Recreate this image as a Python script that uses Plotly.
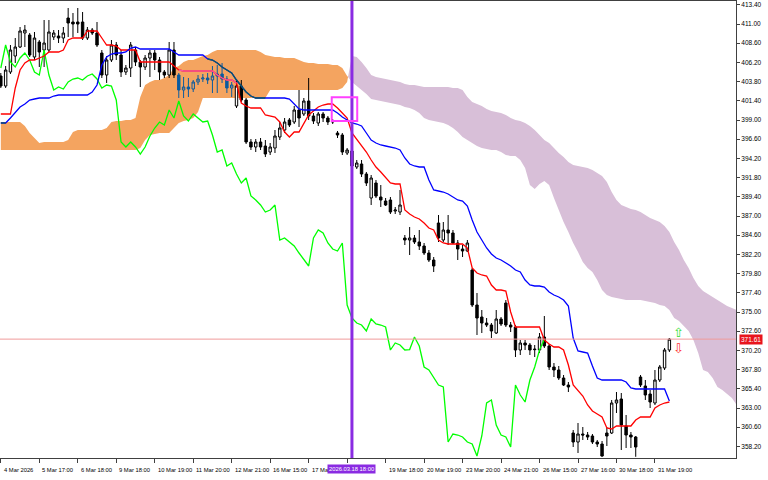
import plotly.graph_objects as go

# ---------------- data ----------------
idx = list(range(140))

open_ = [
404.5, 403.25, 405.0, 407.0, 408.125, 409.875, 409.625, 406.875, 408.75, 407.75,
407.75, 409.375, 409.5, 409.25, 411.75, 411.25, 411.25, 411.25, 409.25, 410.25,
409.875, 407.375, 404.625, 406.5, 408.375, 407.125, 405.0, 405.5, 407.75, 406.25,
405.625, 406.75, 407.375, 406.5, 405.0, 404.625, 407.75, 404.625, 402.75, 403.125,
402.875, 403.75, 404.125, 404.25, 404.0, 404.5, 404.75, 404.125, 403.0, 400.75,
403.25, 401.5, 396.25, 395.625, 396.25, 395.75, 395.0, 395.5, 396.875, 397.75,
399.0, 398.75, 400.25, 399.75, 401.375, 399.5, 398.625, 399.75, 399.25, 398.75,
397.375, 397.125, 394.875, 395.125, 393.125, 393.5, 392.25, 389.25, 391.125, 389.375,
388.875, 389.0, 387.625, 387.5, 384.25, 384.0, 384.25, 383.75, 383.25, 382.375,
381.5, 386.125, 384.0, 385.25, 384.875, 383.625, 382.875, 382.625, 380.25, 375.875,
374.375, 373.625, 373.375, 372.375, 374.125, 376.125, 373.375, 373.125, 370.25, 371.125,
370.875, 370.375, 370.25, 371.875, 370.75, 368.125, 367.75, 366.75, 365.875, 359.875,
358.75, 359.75, 359.625, 359.5, 358.75, 358.5, 359.875, 359.875, 363.625, 364.125,
360.75, 359.625, 359.375, 366.875, 365.75, 364.75, 363.625, 366.5, 368.0, 370.25]

high = [
404.875, 405.75, 408.375, 409.25, 410.625, 410.875, 409.875, 410.0, 409.0, 411.5,
411.5, 410.25, 410.25, 410.625, 413.0, 412.375, 413.0, 412.5, 410.625, 410.5,
411.25, 407.75, 407.0, 409.0, 408.75, 407.75, 405.875, 408.75, 408.125, 406.5,
407.125, 407.75, 407.75, 406.875, 405.25, 408.75, 408.75, 404.875, 404.375, 404.25,
404.0, 404.625, 404.75, 404.875, 405.75, 405.875, 406.125, 404.5, 403.75, 404.0,
404.0, 401.75, 396.625, 396.625, 396.75, 396.5, 396.125, 397.75, 398.75, 399.25,
399.25, 400.75, 402.75, 401.75, 404.25, 399.875, 400.0, 400.0, 399.5, 399.125,
397.625, 397.375, 395.5, 395.375, 394.0, 394.0, 392.5, 392.125, 391.5, 390.875,
389.25, 389.375, 388.125, 390.25, 384.625, 385.625, 384.625, 385.25, 383.625, 382.75,
381.875, 387.125, 386.25, 387.125, 385.25, 384.0, 383.375, 384.0, 380.5, 377.375,
375.25, 374.25, 373.625, 375.25, 374.375, 376.5, 373.75, 373.375, 371.5, 371.5,
371.125, 370.875, 372.375, 374.5, 371.0, 368.625, 368.25, 367.125, 366.25, 360.25,
361.125, 360.625, 360.0, 359.75, 359.0, 358.875, 360.625, 364.0, 365.0, 364.875,
362.125, 360.0, 359.5, 367.125, 366.5, 365.25, 367.75, 368.375, 370.5, 371.75]

low = [
403.0, 403.0, 404.75, 406.125, 408.0, 408.125, 406.875, 406.5, 405.625, 405.625,
407.5, 409.0, 408.625, 408.625, 409.375, 409.375, 409.875, 409.0, 409.0, 409.625,
408.125, 404.25, 403.625, 406.25, 406.5, 404.375, 404.625, 404.375, 405.75, 403.125,
405.25, 404.375, 405.25, 404.0, 404.25, 404.25, 404.25, 401.75, 401.75, 401.875,
402.5, 403.375, 403.75, 403.5, 402.375, 402.375, 403.625, 402.375, 401.875, 400.5,
401.25, 396.0, 395.25, 395.0, 395.25, 394.375, 394.625, 394.875, 396.5, 397.375,
398.125, 398.5, 398.125, 399.5, 399.0, 398.5, 398.25, 398.75, 398.375, 398.5,
396.75, 394.625, 394.625, 392.875, 392.875, 391.875, 390.75, 388.375, 389.25, 388.125,
388.25, 387.25, 387.25, 387.125, 383.375, 382.125, 383.5, 382.75, 382.125, 381.25,
380.0, 383.75, 383.75, 383.375, 383.5, 381.5, 381.875, 382.5, 375.625, 372.125,
372.375, 373.125, 371.75, 372.25, 373.25, 373.125, 372.5, 369.375, 369.625, 370.25,
369.625, 369.375, 369.875, 370.5, 367.75, 366.875, 366.5, 365.75, 365.0, 358.125,
357.375, 359.0, 359.0, 358.5, 358.125, 356.9, 358.25, 359.75, 362.375, 357.75,
358.0, 358.0, 356.9, 365.625, 364.0, 363.0, 363.375, 366.25, 367.75, 370.0]

close = [
403.25, 405.25, 407.75, 408.125, 410.125, 410.25, 407.125, 409.25, 407.5, 408.625,
410.0, 409.875, 409.25, 409.875, 411.125, 411.0, 411.0, 409.25, 410.25, 409.875,
408.375, 404.625, 406.5, 408.375, 407.125, 405.0, 405.5, 408.375, 406.25, 405.625,
406.75, 407.375, 406.5, 405.0, 404.625, 407.75, 404.625, 402.75, 403.125, 402.875,
403.75, 404.125, 404.25, 404.0, 404.5, 404.75, 404.125, 403.0, 403.375, 403.25,
401.5, 396.25, 395.625, 396.25, 395.625, 394.75, 395.625, 397.0, 398.0, 398.75,
398.375, 400.25, 399.25, 401.375, 399.5, 398.875, 399.75, 399.25, 398.75, 398.875,
397.125, 395.0, 395.25, 393.25, 393.625, 392.25, 391.125, 391.75, 389.5, 389.0,
388.375, 387.5, 387.75, 388.375, 384.0, 384.25, 383.75, 383.25, 382.375, 381.5,
380.75, 384.25, 385.25, 384.875, 383.625, 382.875, 382.625, 383.625, 375.875, 374.25,
373.625, 373.375, 372.625, 374.125, 373.5, 373.375, 373.125, 370.25, 371.125, 370.875,
370.25, 370.3, 371.875, 370.75, 368.125, 367.75, 366.75, 365.875, 365.625, 358.75,
359.75, 359.625, 359.375, 358.75, 358.5, 357.0, 359.5, 363.625, 364.0, 360.875,
359.625, 359.375, 358.125, 365.875, 364.625, 363.75, 366.5, 368.125, 370.25, 371.6]

tenkan = [
399.75, 399.75, 399.75, 403.0, 405.25, 406.125, 406.5, 406.5, 406.75, 407.0,
407.5, 407.5, 407.5, 407.75, 409.0, 409.25, 409.25, 409.25, 410.125, 410.125,
410.125, 409.25, 408.375, 408.375, 408.25, 407.75, 407.75, 407.75, 407.75, 406.25,
406.25, 406.25, 406.25, 406.25, 406.25, 406.25, 405.75, 405.25, 405.125, 405.125,
405.125, 405.125, 405.125, 405.125, 405.125, 404.625, 404.25, 404.0, 404.0, 403.625,
401.125, 400.75, 400.5, 400.5, 400.5, 399.625, 399.5, 399.375, 398.75, 397.5,
396.875, 397.5, 397.5, 398.625, 399.625, 400.125, 400.625, 400.875, 401.0, 401.0,
400.5, 399.875, 399.25, 397.375, 396.625, 395.875, 395.0, 394.0, 393.125, 392.5,
391.75, 391.125, 391.0, 391.0, 387.75, 387.25, 386.875, 386.625, 386.125, 385.5,
385.25, 384.0, 383.625, 383.5, 383.5, 383.5, 383.5, 383.0, 380.5, 379.875,
379.625, 379.5, 378.375, 377.75, 377.75, 377.625, 375.0, 373.125, 373.125, 373.125,
373.125, 373.125, 373.125, 371.5, 371.0, 370.625, 370.625, 370.25, 368.375, 365.875,
365.25, 364.5, 363.375, 362.625, 362.25, 361.875, 360.5, 360.375, 360.75, 360.75,
360.75, 360.75, 361.5, 361.875, 361.875, 361.875, 363.0, 363.375, 363.625, 363.75]

kijun = [
398.625, 398.625, 399.25, 400.0, 400.625, 401.0, 401.5, 401.625, 401.75, 401.75,
401.75, 402.0, 402.125, 402.125, 402.125, 402.125, 402.125, 402.125, 402.125, 402.5,
403.375, 405.875, 406.875, 407.25, 407.375, 407.375, 407.5, 408.0, 408.125, 407.875,
407.875, 407.875, 407.875, 407.875, 407.875, 407.875, 407.5, 407.125, 407.125, 407.125,
407.125, 407.125, 407.125, 406.625, 406.5, 406.125, 405.625, 405.25, 404.875, 404.0,
403.25, 402.5, 402.0, 401.75, 401.75, 401.75, 401.75, 401.75, 401.75, 401.75,
401.625, 401.0, 400.375, 400.25, 400.25, 400.25, 400.25, 400.25, 400.25, 400.25,
399.875, 399.375, 399.0, 398.625, 398.5, 398.25, 397.375, 396.5, 396.125, 395.875,
395.75, 395.625, 395.5, 395.25, 394.25, 393.5, 393.25, 393.125, 393.125, 391.5,
390.25, 390.125, 390.0, 389.75, 389.375, 389.0, 388.875, 388.25, 386.5, 385.0,
384.0, 383.0, 382.25, 381.75, 381.5, 381.125, 380.75, 380.25, 380.0, 379.0,
378.375, 378.25, 378.25, 378.125, 377.5, 377.125, 376.875, 376.5, 375.75, 371.75,
370.125, 370.0, 369.875, 368.25, 366.75, 366.5, 366.5, 366.5, 366.5, 366.5,
366.25, 365.5, 365.375, 365.375, 365.375, 365.375, 365.375, 365.375, 365.375, 363.875]

# Senkou spans, already displaced 26 bars forward (index 0..153)
span_a = [
398.75, 398.75, 398.75, 398.75, 398.75, 398.25, 397.375, 396.75, 396.125, 396.25,
396.25, 396.25, 396.25, 396.25, 396.5, 397.5, 397.75, 397.75, 397.75, 397.75,
397.75, 397.75, 398.0, 398.75, 398.875, 398.875, 399.0, 399.0, 399.25, 401.875,
403.375, 403.75, 404.0, 404.0, 404.25, 404.625, 405.5, 405.75, 406.25, 406.5,
406.5, 406.75, 407.0, 407.125, 407.5, 407.75, 407.75, 407.75, 407.75, 407.75,
407.75, 407.75, 407.75, 407.75, 407.5, 407.125, 407.0, 406.875, 406.875, 406.75,
406.75, 406.75, 406.5, 406.25, 406.125, 406.125, 406.0, 406.0, 406.0, 405.875,
405.875, 405.5, 404.5, 403.75, 403.25, 402.75, 402.25, 401.625, 401.5, 401.375,
401.25, 401.125, 401.0, 400.875, 400.625, 400.5, 400.25, 399.875, 399.25, 399.0,
398.875, 398.75, 398.625, 398.375, 398.0, 397.5, 396.875, 396.5, 396.125, 395.75,
395.5, 395.375, 395.25, 395.25, 395.0, 394.625, 394.5, 394.5, 394.0, 393.0,
390.875, 390.375, 391.0, 391.375, 390.875, 389.25, 387.75, 386.25, 385.0, 383.625,
382.5, 381.25, 380.5, 380.0, 379.0, 377.75, 377.125, 376.875, 376.75, 376.625,
376.5, 376.5, 376.5, 376.5, 376.375, 376.25, 376.125, 375.875, 375.75, 375.25,
374.25, 373.875, 373.25, 372.625, 371.5, 369.875, 367.75, 367.5, 366.75, 365.625,
365.25, 364.75, 364.25, 363.375]

span_b = [
395.25, 395.25, 395.25, 395.25, 395.25, 395.25, 395.25, 395.25, 395.25, 395.25,
395.25, 395.25, 395.25, 395.25, 395.25, 395.25, 395.25, 395.25, 395.25, 395.25,
395.25, 395.25, 395.25, 395.25, 395.25, 395.25, 395.25, 395.25, 395.25, 395.5,
396.5, 397.125, 397.25, 397.375, 397.375, 397.375, 398.0, 398.625, 398.875, 399.0,
399.25, 400.0, 401.75, 401.75, 401.75, 401.75, 401.75, 401.75, 401.75, 401.75,
401.75, 401.75, 401.75, 401.75, 401.75, 401.75, 402.75, 402.75, 402.75, 402.75,
402.75, 402.75, 402.75, 402.75, 402.75, 402.75, 402.75, 402.75, 402.75, 402.75,
402.75, 403.0, 403.75, 407.0, 406.875, 406.25, 405.5, 404.625, 404.375, 404.25,
404.125, 404.0, 403.875, 403.75, 403.5, 403.375, 403.375, 403.25, 403.125, 403.125,
403.125, 403.125, 403.125, 403.125, 403.0, 403.0, 402.75, 401.875, 401.25, 401.0,
400.75, 400.375, 400.125, 400.0, 399.875, 399.625, 399.25, 399.0, 398.875, 398.625,
398.25, 397.75, 397.125, 396.5, 396.125, 395.5, 394.875, 394.375, 393.75, 393.375,
393.25, 393.125, 393.0, 392.75, 392.375, 392.0, 391.25, 390.0, 389.0, 388.375,
388.125, 387.875, 387.75, 387.5, 387.125, 386.75, 386.5, 386.25, 385.75, 385.0,
383.75, 382.75, 381.5, 380.5, 379.25, 378.25, 377.625, 377.25, 376.875, 376.5,
376.125, 375.75, 375.5, 375.25]

chikou_shift = 26

x_tick_idx = [0, 8, 16, 24, 32, 40, 48, 56, 64, 72, 80, 88, 96, 104, 112, 120, 128, 136]
x_tick_text = ["4 Mar 2026", "5 Mar 17:00", "6 Mar 18:00", "9 Mar 18:00", "10 Mar 19:00",
               "11 Mar 20:00", "12 Mar 21:00", "16 Mar 15:00", "17 Mar", "",
               "19 Mar 18:00", "20 Mar 19:00", "23 Mar 20:00", "24 Mar 21:00", "26 Mar 15:00",
               "27 Mar 16:00", "30 Mar 18:00", "31 Mar 19:00"]

y_ticks = [413.40, 411.00, 408.60, 406.20, 403.80, 401.40, 399.00, 396.60, 394.20, 391.80,
           389.40, 387.00, 384.60, 382.20, 379.80, 377.40, 375.00, 372.60, 370.20, 367.80,
           365.40, 363.00, 360.60, 358.20]

vline_idx = 73
vline_text = "2026.03.18 18:00"
bid_price = 371.61
box_x = [68.8, 74.1]
box_y = [398.875, 401.84]
arrow_x = 140.8
arrow_up_y = 372.5
arrow_dn_y = 370.5

# colours (MetaTrader draws the cloud in XOR mode: marks inside the
# sandy-brown cloud appear in the inverted colours below)
BULL_CLOUD = "#f4a460"
BEAR_CLOUD = "#d8bfd8"
IN_BLACK = "#0b5b9f"
IN_RED = "#f45b9f"
IN_BLUE = "#0b5b60"

FONT = "Liberation Sans"
fig = go.Figure()

# ---------------- cloud (shapes below the price marks) ----------------
n = len(span_a)
sign = [span_a[i] >= span_b[i] for i in range(n)]
runs = []
s = 0
for i in range(1, n + 1):
    if i == n or sign[i] != sign[s]:
        runs.append((s, i - 1))
        s = i


def cross(k):
    d0 = span_a[k] - span_b[k]
    d1 = span_a[k + 1] - span_b[k + 1]
    t = d0 / (d0 - d1)
    return k + t, span_a[k] + t * (span_a[k + 1] - span_a[k])


shapes = []
for (a, b) in runs:
    xs = list(range(a, b + 1))
    pts = []
    if a > 0:
        pts.append(cross(a - 1))
    pts += [(i, span_a[i]) for i in xs]
    if b < n - 1:
        pts.append(cross(b))
    pts += [(i, span_b[i]) for i in xs[::-1]]
    path = "M " + " L ".join("%.4f,%.4f" % p for p in pts) + " Z"
    col = BULL_CLOUD if sign[a] else BEAR_CLOUD
    shapes.append(dict(type="path", xref="x", yref="y", path=path, fillcolor=col,
                       line=dict(width=0), layer="below"))


def in_bull_cloud(i, lo, hi):
    return i < n and sign[i] and lo >= span_b[i] and hi <= span_a[i]


# ---------------- candles ----------------
inside = [in_bull_cloud(i, low[i], high[i]) for i in idx]
out_i = [i for i in idx if not inside[i]]
in_i = [i for i in idx if inside[i]]

fig.add_trace(go.Candlestick(
    x=out_i, open=[open_[i] for i in out_i], high=[high[i] for i in out_i],
    low=[low[i] for i in out_i], close=[close[i] for i in out_i],
    increasing=dict(line=dict(color="black", width=1), fillcolor="white"),
    decreasing=dict(line=dict(color="black", width=1), fillcolor="black"),
    whiskerwidth=0, hoverinfo="skip", showlegend=False))
fig.add_trace(go.Candlestick(
    x=in_i, open=[open_[i] for i in in_i], high=[high[i] for i in in_i],
    low=[low[i] for i in in_i], close=[close[i] for i in in_i],
    increasing=dict(line=dict(color=IN_BLACK, width=1), fillcolor=BULL_CLOUD),
    decreasing=dict(line=dict(color=IN_BLACK, width=1), fillcolor=IN_BLACK),
    whiskerwidth=0, hoverinfo="skip", showlegend=False))


# ---------------- lines ----------------
def add_line(xv, yv, color, color_in):
    fig.add_trace(go.Scatter(x=xv, y=yv, mode="lines",
                             line=dict(color=color, width=1.3), hoverinfo="skip"))
    ov = [v if in_bull_cloud(x, v, v) else None for x, v in zip(xv, yv)]
    fig.add_trace(go.Scatter(x=xv, y=ov, mode="lines", connectgaps=False,
                             line=dict(color=color_in, width=1.3), hoverinfo="skip"))


fig.add_trace(go.Scatter(x=idx[:len(idx) - chikou_shift], y=close[chikou_shift:], mode="lines",
                         line=dict(color="#00ff00", width=1.3), hoverinfo="skip"))
add_line(idx, tenkan, "#ff0000", IN_RED)
add_line(idx, kijun, "#0000ff", IN_BLUE)

shapes += [
    dict(type="line", xref="paper", x0=0, x1=1, yref="y", y0=bid_price, y1=bid_price,
         line=dict(color="#f09a9a", width=1), layer="above"),
    dict(type="line", xref="x", x0=vline_idx, x1=vline_idx, yref="paper", y0=0, y1=1,
         line=dict(color="#8a2be2", width=3), layer="above"),
    dict(type="rect", xref="x", x0=box_x[0], x1=box_x[1], yref="y", y0=box_y[0], y1=box_y[1],
         line=dict(color="#ff40ff", width=2), fillcolor="rgba(0,0,0,0)", layer="above"),
]

annotations = []
for k, t in zip(x_tick_idx, x_tick_text):
    if not t:
        continue
    annotations.append(dict(x=k, y=0, xref="x", yref="paper", text=t, showarrow=False,
                            xanchor="left", yanchor="top", xshift=1, yshift=-7,
                            font=dict(family=FONT, size=5.8, color="black")))
annotations.append(dict(x=vline_idx, y=0, xref="x", yref="paper", text=vline_text,
                        showarrow=False, xanchor="center", yanchor="top", yshift=-6,
                        bgcolor="#8a2be2", borderpad=1,
                        font=dict(family=FONT, size=5.8, color="white")))
annotations.append(dict(x=1, y=bid_price, xref="paper", yref="y", text="%.2f" % bid_price,
                        showarrow=False, xanchor="left", yanchor="middle", xshift=3,
                        bgcolor="#e8141c", borderpad=1,
                        font=dict(family=FONT, size=6.5, color="white")))
annotations.append(dict(x=arrow_x, y=arrow_up_y, xref="x", yref="y", text="\u21e7",
                        showarrow=False, font=dict(family="DejaVu Sans", size=13, color="#33dd33")))
annotations.append(dict(x=arrow_x, y=arrow_dn_y, xref="x", yref="y", text="\u21e9",
                        showarrow=False, font=dict(family="DejaVu Sans", size=13, color="#ff3333")))

fig.update_layout(
    width=768, height=480,
    margin=dict(l=0, r=32, t=1, b=22),
    paper_bgcolor="white", plot_bgcolor="white",
    showlegend=False, boxgap=0.5, boxgroupgap=0, boxmode="overlay",
    shapes=shapes, annotations=annotations,
    xaxis=dict(range=[-0.17, 152.85], tickvals=x_tick_idx, ticks="outside", ticklen=4,
               tickcolor="#404040", showticklabels=False, showgrid=False, zeroline=False,
               showline=True, linecolor="#404040", linewidth=1, mirror=True,
               rangeslider=dict(visible=False), fixedrange=True),
    yaxis=dict(side="right", range=[356.75, 413.875], tickvals=y_ticks, tickformat=".2f",
               ticks="outside", ticklen=3, tickcolor="#404040",
               tickfont=dict(family=FONT, size=6.5, color="black"),
               showgrid=False, zeroline=False, showline=True, linecolor="#404040",
               linewidth=1, mirror=True, fixedrange=True),
)

# the page body keeps the browser's default 8 px margin otherwise
js = "document.body.style.margin='0';"
fig.write_html("out.html", post_script=js, config={"displayModeBar": False})
